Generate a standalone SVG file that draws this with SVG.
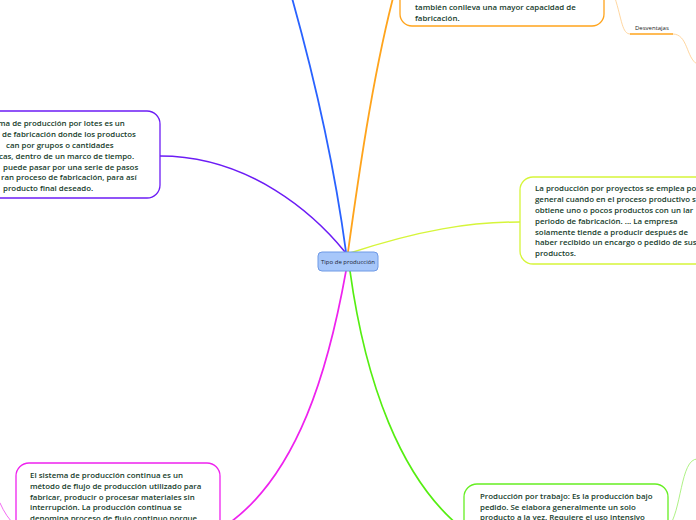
<svg xmlns="http://www.w3.org/2000/svg" width="696" height="520" viewBox="0 0 696 520">
<style>
.t{font-family:"Open Sans","Noto Sans","DejaVu Sans",sans-serif;font-size:7.9px;font-weight:600;fill:#173d2c}
.box{fill:#fff;stroke-width:1.3}
.c{fill:none;stroke-linecap:round}
.small{font-family:"Open Sans","Noto Sans","DejaVu Sans",sans-serif;font-size:6px;fill:#222}
</style>
<rect width="696" height="520" fill="#fff"/>
<g id="connectors">
<path class="c" d="M346,252 C335,170 315,80 292,-2" stroke="#2962ff" stroke-width="1.8"/>
<path class="c" d="M348,252 C358,180 372,80 393,-2" stroke="#ffa41c" stroke-width="1.8"/>
<path class="c" d="M160,156 C250,156 315,215 345,252" stroke="#6c1cf5" stroke-width="1.5"/>
<path class="c" d="M350,253 C420,230 470,222 520,222" stroke="#d6f53a" stroke-width="1.5"/>
<path class="c" d="M346,271 C330,360 300,480 219,530" stroke="#ee22ee" stroke-width="1.7"/>
<path class="c" d="M350,271 C365,380 400,480 464,530" stroke="#55ee11" stroke-width="1.7"/>
<path class="c" d="M615,-2 C622,20 622,34 630,34" stroke="#ffcc88" stroke-width="0.8"/>
<path class="c" d="M673,34 C688,34 686,58 697,64" stroke="#ffcc88" stroke-width="0.8"/>
<path class="c" d="M668,528 C682,512 680,459 697,459" stroke="#99ee66" stroke-width="0.8"/>
<path class="c" d="M16,526 C9,520 4,512 0,503" stroke="#ee44ee" stroke-width="0.8"/>
</g>
<g id="node-center">
<rect x="318" y="252" width="60" height="19" rx="4" fill="#a7c7fa" stroke="#6f9ae6" stroke-width="1"/>
<text x="348" y="264" text-anchor="middle" style="font-family:'Open Sans','Noto Sans',sans-serif;font-size:6px;fill:#1a2233">Tipo de producción</text>
</g>
<g id="node-lotes">
<rect class="box" x="-30" y="111" width="190" height="87" rx="13" stroke="#6c1cf5"/>
<text class="t" x="-2" y="126.3">ma de producción por lotes es un</text>
<text class="t" x="2" y="137.1">de fabricación donde los productos</text>
<text class="t" x="6" y="148">can por grupos o cantidades</text>
<text class="t" x="-1" y="158.8">cas, dentro de un marco de tiempo.</text>
<text class="t" x="3" y="169.6">puede pasar por una serie de pasos</text>
<text class="t" x="1" y="180.4">ran proceso de fabricación, para así</text>
<text class="t" x="3" y="191.3">producto final deseado.</text>
</g>
<g id="node-capacidad">
<rect class="box" x="400" y="-40" width="204" height="66" rx="12" stroke="#ffa41c"/>
<text class="t" x="415" y="9.7">también conlleva una mayor capacidad de</text>
<text class="t" x="415" y="20.5">fabricación.</text>
</g>
<g id="node-desventajas">
<text class="small" x="635" y="29.5">Desventajas</text>
<line x1="630" y1="34" x2="673" y2="34" stroke="#ffa41c" stroke-width="1.6"/>
</g>
<g id="node-proyectos">
<rect class="box" x="520" y="177" width="200" height="87" rx="13" stroke="#d6f53a"/>
<text class="t" x="535" y="191.3">La producción por proyectos se emplea po</text>
<text class="t" x="535" y="202.1">general cuando en el proceso productivo s</text>
<text class="t" x="535" y="213">obtiene uno o pocos productos con un lar</text>
<text class="t" x="535" y="223.8">periodo de fabricación. ... La empresa</text>
<text class="t" x="535" y="234.6">solamente tiende a producir después de</text>
<text class="t" x="535" y="245.4">haber recibido un encargo o pedido de sus</text>
<text class="t" x="535" y="256.3">productos.</text>
</g>
<g id="node-continua">
<rect class="box" x="16" y="463" width="204" height="90" rx="13" stroke="#ee22ee"/>
<text class="t" x="30" y="478">El sistema de producción continua es un</text>
<text class="t" x="30" y="488.8">método de flujo de producción utilizado para</text>
<text class="t" x="30" y="499.6">fabricar, producir o procesar materiales sin</text>
<text class="t" x="30" y="510.4">interrupción. La producción continua se</text>
<text class="t" x="30" y="521.2">denomina proceso de flujo continuo porque</text>
</g>
<g id="node-trabajo">
<rect class="box" x="464" y="484" width="204" height="70" rx="13" stroke="#66ee22"/>
<text class="t" x="480" y="498.7">Producción por trabajo: Es la producción bajo</text>
<text class="t" x="480" y="509.5">pedido. Se elabora generalmente un solo</text>
<text class="t" x="480" y="520.3">producto a la vez. Requiere el uso intensivo</text>
</g>
</svg>
